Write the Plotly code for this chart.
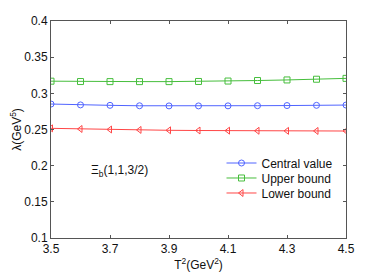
import plotly.graph_objects as go

T2 = [3.5, 3.6, 3.7, 3.8, 3.9, 4.0, 4.1, 4.2, 4.3, 4.4, 4.5]
central = [0.2852, 0.2840, 0.2834, 0.2828, 0.2826, 0.2826, 0.2827, 0.2829, 0.2831, 0.2834, 0.2838]
upper = [0.3168, 0.3163, 0.3162, 0.3162, 0.3162, 0.3164, 0.3170, 0.3177, 0.3185, 0.3195, 0.3207]
lower = [0.2516, 0.2507, 0.2500, 0.2494, 0.2489, 0.2486, 0.2484, 0.2482, 0.2481, 0.2480, 0.2479]

series = [
    ("Central value", central, "rgb(80,100,255)", "circle-open", "legend", 0.3456),
    ("Upper bound", upper, "rgb(70,190,60)", "square-open", "legend2", 0.2765),
    ("Lower bound", lower, "rgb(255,70,70)", "triangle-left-open", "legend3", 0.2074),
]

fig = go.Figure()
for name, vals, col, sym, lg, _ in series:
    fig.add_trace(go.Scatter(
        x=T2, y=vals, name=name, mode="lines+markers", legend=lg,
        line=dict(color=col, width=1),
        marker=dict(symbol=sym, size=6, color=col, line=dict(color=col, width=1)),
    ))

axis_common = dict(
    showgrid=False, zeroline=False, showline=True, mirror="ticks",
    linecolor="#555555", linewidth=1, ticks="inside", ticklen=3,
    tickcolor="#555555", automargin=False,
    tickfont=dict(family="Liberation Sans, Arial", size=12, color="#111111"),
)

legend_common = dict(xanchor="left", yanchor="middle", bgcolor="rgba(0,0,0,0)",
                     font=dict(family="Liberation Sans, Arial", size=12, color="#111111"),
                     borderwidth=0, itemwidth=30)

layout_legends = {}
for name, vals, col, sym, lg, ly in series:
    layout_legends[lg] = dict(x=0.578, y=ly, **legend_common)

# page body has an 8px default margin; size the figure to fit the window
fig.update_layout(
    template="none",
    width=374, height=265,
    margin=dict(l=43, r=36, t=13, b=35),
    paper_bgcolor="white", plot_bgcolor="white",
    font=dict(family="Liberation Sans, Arial", size=12, color="#111111"),
    xaxis=dict(range=[3.5, 4.5], tickvals=[3.5, 3.7, 3.9, 4.1, 4.3, 4.5],
               ticktext=["3.5", "3.7", "3.9", "4.1", "4.3", "4.5"],
               title=dict(text="T<sup>2</sup>(GeV<sup>2</sup>)", standoff=0,
                          font=dict(size=12)), **axis_common),
    yaxis=dict(range=[0.1, 0.4], tickvals=[0.1, 0.15, 0.2, 0.25, 0.3, 0.35, 0.4],
               ticktext=["0.1", "0.15", "0.2", "0.25", "0.3", "0.35", "0.4"],
               title=dict(text="λ(GeV<sup>5</sup>)", standoff=14,
                          font=dict(size=12)), **axis_common),
    showlegend=True,
    annotations=[dict(text="Ξ<sub>b</sub>(1,1,3/2)", x=0.129, y=0.31,
                      xref="paper", yref="paper", xanchor="left", yanchor="middle",
                      showarrow=False, font=dict(size=12))],
    **layout_legends,
)

fig.write_html("out.html")
